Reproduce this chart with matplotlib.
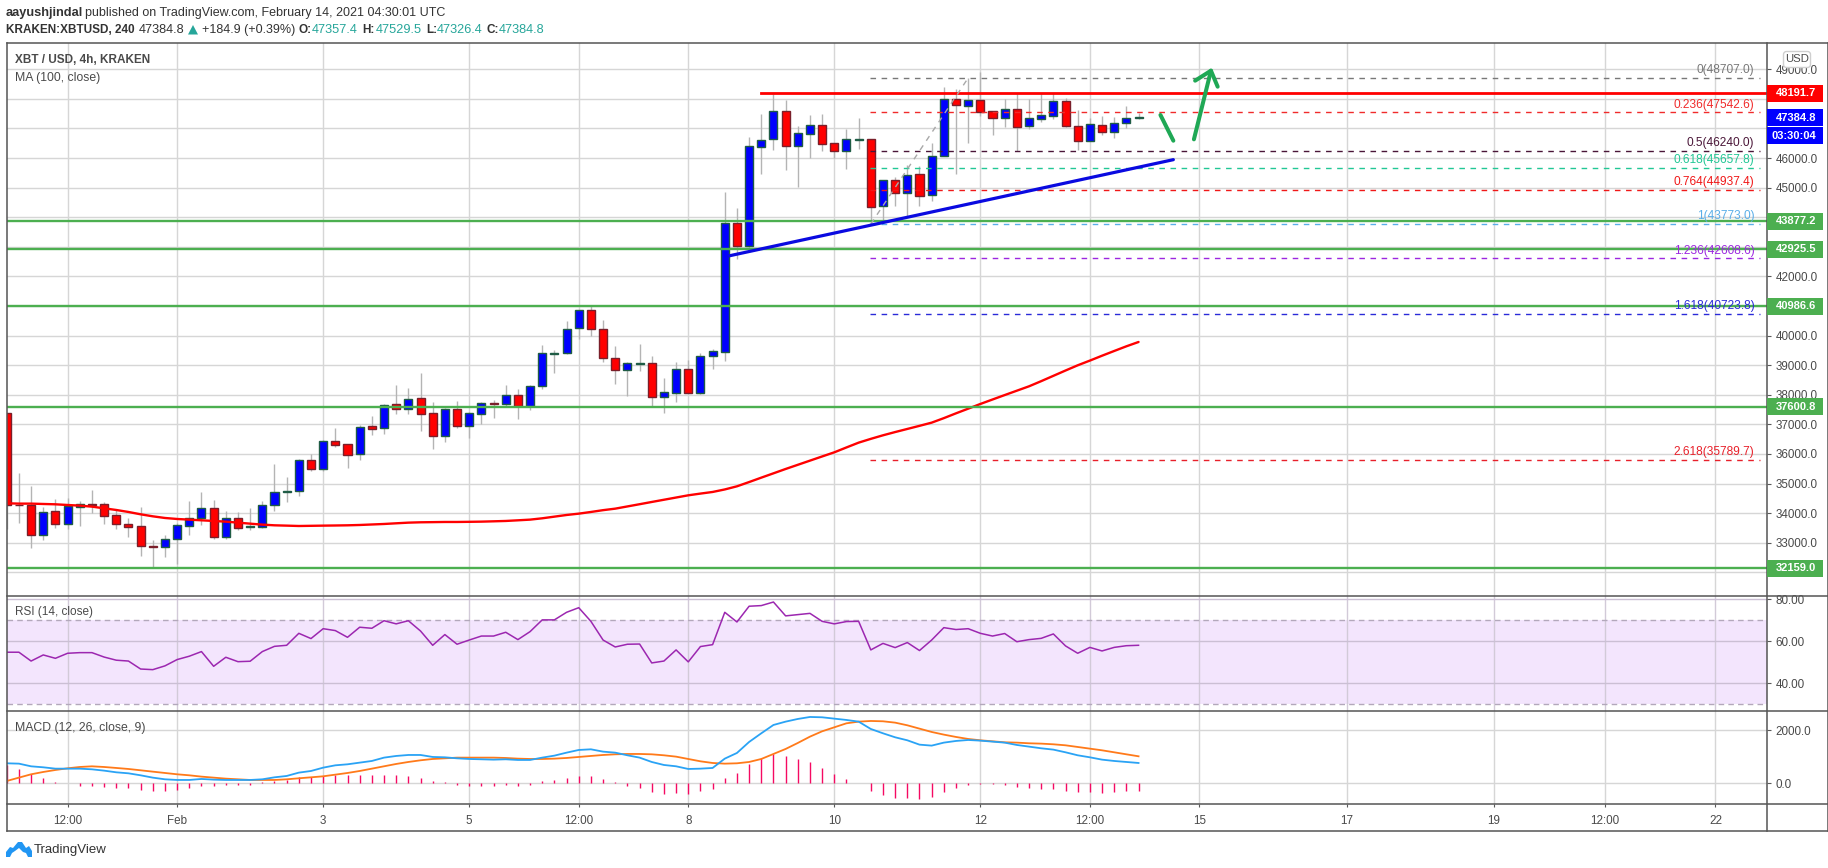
import matplotlib
matplotlib.use("Agg")
import matplotlib.pyplot as plt
from matplotlib.patches import Rectangle, FancyBboxPatch, Polygon
from matplotlib.lines import Line2D
from matplotlib.transforms import IdentityTransform
import numpy as np

plt.rcParams['font.family'] = ['Liberation Sans', 'DejaVu Sans']

W, H = 1828, 868

opens = [37373,34270,34264,33250,34061,33622,34219,34298,34298,33926,33622,33555,32879,32845,33115,33577,33825,34163,33183,33825,
         33520,33543,34264,34704,34737,35785,35481,36427,36326,35988,36934,36866,37677,37509,37880,37373,36619,37509,36957,37362,
         37722,37700,37982,37632,38286,39367,39401,40246,40854,40212,39232,38849,39050,39063,37937,38072,38860,38072,39300,39457,
         43794,43039,46385,46656,47579,46419,46824,47106,46498,46250,46622,46633,44391,45247,44831,45450,44741,46081,47985,47771,
         47951,47579,47365,47647,47095,47331,47410,47917,47072,46588,47106,46892,47174,47357.4]
closes = [34264,34264,33250,34028,33622,34230,34298,34287,33915,33622,33543,32879,32845,33115,33588,33825,34163,33183,33825,33509,
          33554,34264,34704,34737,35785,35481,36427,36314,35976,36900,36855,37644,37509,37846,37362,36619,37509,36957,37373,37711,
          37700,37982,37632,38286,39401,39401,40212,40854,40212,39232,38849,39063,39063,37937,38083,38860,38072,39300,39469,43794,
          43039,46396,46599,47579,46419,46836,47106,46487,46250,46633,46644,44358,45247,44831,45439,44729,46058,47985,47805,47951,
          47568,47365,47647,47061,47343,47444,47917,47095,46588,47140,46892,47174,47343,47384.8]
highs = [37373,35357,34918,34219,34467,34501,34411,34782,34377,34129,33825,34208,33093,33262,33656,34411,34715,34444,34084,34039,
         34174,34411,35661,35222,35841,36000,36472,36878,36326,36979,37283,37677,38331,38230,38736,37756,37554,37790,37418,37745,
         37813,38331,38196,38331,39683,39514,40494,40866,41001,40528,39649,39108,39717,39311,38567,39108,39176,39412,39548,44842,
         44312,46712,47489,48165,47962,47084,47455,47489,46498,46982,47354,46633,45247,45371,45766,45732,46498,48402,48323,48694,
         48920,47579,47985,48188,47985,48188,48188,48019,47624,47343,47422,47388,47760,47529.5]
lows = [33475,33678,32834,33093,33509,33475,33577,33994,33644,33475,33205,32563,32191,32529,32281,33273,33611,33138,33138,33442,
        33442,33509,34084,34388,34591,35436,35413,36247,35537,35807,36652,36675,37362,37362,36788,36179,36404,36878,36551,37013,
        37227,37621,37193,37486,38207,38736,39379,39897,39987,39108,38376,37959,38804,37599,37396,37756,38049,38038,38883,39142,
        42577,42949,45461,46272,45597,45033,45991,46239,45991,45630,46306,43738,43794,44380,44019,44380,44549,46081,45461,46520,
        47422,46779,47050,46239,46982,47219,47331,47061,46272,46588,46779,46678,47016,47326.4]
ma100 = [34332,34321,34321,34309,34298,34275,34253,34219,34163,34106,34039,33960,33892,33836,33802,33780,33757,33735,33712,33678,
         33644,33611,33588,33577,33565,33571,33577,33582,33588,33599,33616,33633,33656,33678,33690,33695,33701,33701,33706,33712,
         33723,33735,33757,33780,33825,33881,33937,33982,34039,34100,34151,34226,34301,34377,34452,34527,34602,34660,34715,34800,
         34906,35050,35199,35345,35492,35633,35774,35915,36055,36220,36382,36510,36630,36740,36845,36950,37058,37210,37373,37530,
         37689,37840,37990,38138,38286,38460,38640,38820,38996,39155,39320,39480,39638,39784]
rsi = [54.8,54.8,50.6,53.5,51.9,54.3,54.6,54.6,52.5,51.0,50.6,46.8,46.5,48.3,51.3,52.9,55.1,48.1,52.4,50.3,
       50.5,55.1,57.6,58.1,63.8,61.3,66.0,65.1,61.9,66.7,66.2,69.8,68.3,69.8,64.9,58.1,63.2,58.6,60.6,62.5,
       62.5,64.3,60.8,64.6,70.2,70.2,73.8,76.0,69.5,60.6,57.3,58.6,58.7,49.7,50.6,55.9,50.2,57.5,58.4,73.8,
       69.2,76.7,77.0,78.7,72.1,72.7,73.3,69.5,68.3,69.4,69.5,55.9,59.0,57.0,59.4,55.6,60.6,66.5,65.6,66.0,
       63.8,62.5,63.7,59.8,60.8,61.4,63.5,57.8,54.3,57.1,55.4,57.1,57.9,58.1]
macd = [755,742,641,604,553,553,553,528,478,415,377,302,214,151,126,126,164,138,126,126,
        126,151,226,277,403,465,591,679,717,780,843,969,1032,1069,1069,994,981,943,918,906,
        893,906,881,881,969,1044,1157,1258,1283,1195,1157,1057,969,805,692,642,541,553,579,931,
        1145,1560,1887,2201,2327,2428,2503,2491,2440,2390,2327,2050,1887,1736,1623,1459,1422,1535,1598,1635,
        1610,1573,1535,1447,1384,1321,1271,1170,1057,981,893,843,805,767]
signal = [88,214,340,428,503,566,616,641,616,579,541,491,440,390,340,302,252,214,176,151,
          126,126,126,151,189,226,264,327,390,465,553,642,730,805,868,918,943,969,969,969,
          969,956,931,918,918,931,956,994,1032,1069,1094,1107,1107,1094,1057,1006,918,830,767,742,
          755,805,918,1107,1296,1522,1761,1962,2113,2264,2327,2352,2340,2289,2189,2063,1937,1837,1749,1673,
          1623,1585,1547,1535,1510,1497,1472,1434,1371,1308,1245,1170,1094,1019]
hist = [692,541,340,201,63,13,-88,-88,-138,-164,-176,-252,-277,-289,-252,-176,-88,-88,-63,-63,
        -63,38,75,113,226,252,277,327,315,315,315,315,315,277,201,75,50,-50,-88,-88,
        -88,-50,-88,-50,75,126,201,264,277,164,50,-88,-164,-315,-390,-352,-390,-277,-201,201,
        390,730,944,1120,1032,918,805,579,352,164,25,-277,-428,-541,-541,-579,-503,-315,-164,-63,
        -13,-13,-50,-126,-176,-214,-214,-289,-315,-315,-352,-315,-289,-289]

time_ticks = [5,14,26,38,47,56,68,80,89,98,110.1,122.2,131.3,140.4]
time_labels = ['12:00','Feb','3','5','12:00','8','10','12','12:00','15','17','19','12:00','22']
support_levels = [43877.2,42925.5,40986.6,37600.8,32159.0]
resistance_level = 48191.7
fib_levels = [48707.0,47542.6,46240.0,45657.8,44937.4,43773.0,42608.6,40723.8,35789.7]
fib_names = ['0','0.236','0.5','0.618','0.764','1','1.236','1.618','2.618']
fib_colors = ['#787878','#f02b2b','#4a1638','#22c795','#f01818','#5aaee8','#9c27e0','#2a2ad8','#e8202a']
trend_x, trend_y = [59.3,95.86],[42690,45946]
swing_x, swing_y = [71,79],[43773,48707]
price_ticks = list(range(32000,50000,1000))
hidden_price_labels = {32000,41000,43000,44000,47000,48000}

GRID='#d6d6d6'; FRAME='#555555'; TXT='#4a4a4a'; AX='#5a5a5a'
GREEN='#4caf50'; TEAL='#26a69a'; ARROW='#1fa855'
L,R,T,P_B,RSI_B,MACD_B,BOT,RIGHT = 6.7,1767.0,43.3,595.7,711.3,804.3,831.3,1827.5
LS = 8.4

fig = plt.figure(figsize=(W/100,H/100),dpi=100,facecolor='white')
def mkax(top,bot):
    ax = fig.add_axes([L/W,1-bot/H,(R-L)/W,(bot-top)/H])
    ax.set_xlim(-0.004,144.64)
    for s in ax.spines.values(): s.set_visible(False)
    ax.set_axisbelow(True)
    ax.grid(True,color=GRID,lw=1.0)
    ax.yaxis.tick_right()
    ax.tick_params(axis='y',length=2.9,width=0.8,color=AX,labelcolor=TXT,labelsize=LS,pad=3.2)
    ax.set_xticks(time_ticks)
    ax.tick_params(axis='x',length=0,labelbottom=False)
    return ax

x = np.arange(len(opens))
ax = mkax(T,P_B)
ax.set_ylim(31209,49879)
ax.set_yticks(price_ticks)
ax.set_yticklabels(['' if v in hidden_price_labels else f'{v:.1f}' for v in price_ticks])
ax.vlines(x,lows,highs,color='#b4b4b4',lw=1.0,zorder=2)
o=np.array(opens);c=np.array(closes)
up=c>=o
ax.bar(x[up],(c-o)[up],bottom=o[up],width=0.66,color='#0000ff',edgecolor='#1f5c45',lw=1.0,zorder=3)
ax.bar(x[~up],(o-c)[~up],bottom=c[~up],width=0.66,color='#ff0000',edgecolor='#7a1f2a',lw=1.0,zorder=3)
ax.plot(x,ma100,color='#ff0000',lw=1.7,zorder=4,solid_capstyle='round')
for lv in support_levels:
    ax.axhline(lv,color=GREEN,lw=1.7,zorder=5)
ax.plot([62,144.64],[resistance_level]*2,color='#ff0000',lw=2.0,zorder=5)
for lv,nm,col in zip(fib_levels,fib_names,fib_colors):
    ax.plot([70.9,144.1],[lv,lv],color=col,lw=1.0,ls=(0,(4,4)),zorder=5)
    ax.annotate(f'{nm}({lv:.1f})',xy=(143.6,lv),xytext=(0,5.6),textcoords='offset points',
                ha='right',va='center',color=col,fontsize=8.6,zorder=6)
ax.plot(swing_x,swing_y,color='#a8a8a8',lw=1.0,ls=(0,(4,4)),zorder=5)
ax.plot(trend_x,trend_y,color='#0a0ae0',lw=2.3,zorder=6,solid_capstyle='round')
ax.plot([94.8,95.86],[47456,46587],color=ARROW,lw=2.9,zorder=6,solid_capstyle='round')
ax.plot([97.55,98.95],[46633,48954],color=ARROW,lw=2.9,zorder=6,solid_capstyle='round')
ax.plot([97.65,98.95,99.5],[48616,48954,48413],color=ARROW,lw=2.9,zorder=6,solid_capstyle='round',solid_joinstyle='round')

ax2 = mkax(P_B,RSI_B)
ax2.set_ylim(26.67,81.71)
ax2.axhspan(30,70,color='#f3e5fd',lw=0,zorder=0.5)
ax2.set_yticks([40,60,80])
ax2.set_yticklabels(['40.00','60.00','80.00'])
ax2.grid(True,color='#cbbfd4',lw=1.0,axis='y')
ax2.grid(True,color='#d2cad8',lw=1.0,axis='x')
for lv in (30,70):
    ax2.axhline(lv,color='#b3a8bb',lw=1.0,ls=(0,(4,3)),zorder=1)
ax2.plot(x,rsi,color='#9c27b0',lw=1.1,zorder=3)

ax3 = mkax(RSI_B,MACD_B)
ax3.set_ylim(-792,2717)
ax3.set_yticks([0,2000])
ax3.set_yticklabels(['0.0','2000.0'])
ax3.vlines(x,0,hist,color='#f50a62',lw=1.0,zorder=2)
ax3.plot(x,signal,color='#ff7a1a',lw=1.3,zorder=3)
ax3.plot(x,macd,color='#2aa3f5',lw=1.3,zorder=4)
ax3.tick_params(axis='x',length=2.4,width=0.8,color=AX,labelbottom=True,labelcolor=TXT,labelsize=LS,pad=5.6)
ax3.set_xticklabels(time_labels)

# frame
def hline(y,x0=L,x1=RIGHT):
    fig.add_artist(Line2D([x0/W,x1/W],[1-y/H]*2,color=FRAME,lw=1.1,zorder=5))
def vline(xp,y0=T,y1=BOT):
    fig.add_artist(Line2D([xp/W]*2,[1-y0/H,1-y1/H],color=FRAME,lw=1.1,zorder=5))
for yy in (T,P_B,RSI_B,MACD_B,BOT): hline(yy)
for xx in (L,R,RIGHT): vline(xx)

def txt(xp,yp,s,**kw):
    kw.setdefault('fontsize',LS); kw.setdefault('color',TXT); kw.setdefault('va','center'); kw.setdefault('zorder',7)
    return fig.text(xp/W,1-yp/H,s,**kw)

# badges
def badge(y0,y1,col,s,xt=1775.4):
    fig.add_artist(Rectangle((R/W,1-y1/H),(1823-R)/W,(y1-y0)/H,transform=fig.transFigure,fc=col,ec='none',zorder=6))
    txt(xt,(y0+y1)/2,s,color='white',fontweight='bold',fontsize=8.0)
badge(85,102,'#ff0000','48191.7')
badge(109.3,126,'#0000ff','47384.8')
badge(127.3,144,'#0000ff','03:30:04',xt=1771.4)
lab=[(43877.2,221.3),(42925.5,249.3),(40986.6,306.3),(37600.8,407.0),(32159.0,568.0)]
for v,yc in lab:
    badge(yc-8.5,yc+8.5,GREEN,f'{v:.1f}')
fig.add_artist(FancyBboxPatch((1785,868-66),24,13,boxstyle='round,pad=1.5,rounding_size=3',transform=IdentityTransform(),
                              fc='white',ec='#cfcfcf',lw=1,zorder=6))
txt(1797,59.3,'USD',ha='center',zorder=7,fontsize=8.2)

# header and pane titles
HC='#333333'
txt(6,13,'aayushjindal',fontweight='bold',fontsize=9.2,color=HC)
txt(85.4,13,'published on TradingView.com, February 14, 2021 04:30:01 UTC',fontsize=9.0,color=HC)
txt(6,30,'KRAKEN:XBTUSD, 240',fontweight='bold',fontsize=8.5,color=HC)
txt(139,30,'47384.8',fontsize=9.2,color=HC)
fig.add_artist(Polygon([(188/W,1-34.5/H),(198/W,1-34.5/H),(193/W,1-25/H)],closed=True,transform=fig.transFigure,fc=TEAL,ec='none'))
txt(202,30,'+184.9 (+0.39%)',fontsize=9.0,color=HC)
for xp,s,xv,v in [(298.5,'O:',312,'47357.4'),(362.6,'H:',376,'47529.5'),(426.6,'L:',437,'47326.4'),(487,'C:',499,'47384.8')]:
    txt(xp,30,s,fontweight='bold',fontsize=8.5,color=HC)
    txt(xv,30,v,fontsize=9.2,color=TEAL)
txt(15,60.3,'XBT / USD, 4h, KRAKEN',fontweight='bold',fontsize=8.5)
txt(15,77.7,'MA (100, close)',fontsize=8.8)
txt(15,612.5,'RSI (14, close)',fontsize=8.5)
txt(15,728.5,'MACD (12, 26, close, 9)',fontsize=8.8)

# logo
cloud=[(6,857),(6,852),(10,847),(13,848),(18,842),(22,842),(26,848),(29,846),(32,851),(32,857),(28,857),(26,853),(23,852),(19,848),(15,851),(12,853),(10,857)]
fig.add_artist(Polygon([(a/W,1-b/H) for a,b in cloud],closed=True,transform=fig.transFigure,fc='#2196f3',ec='none',zorder=6))
txt(34,850,'TradingView',fontsize=9.5,color=HC)

fig.savefig('out.png',dpi=100,facecolor='white')
